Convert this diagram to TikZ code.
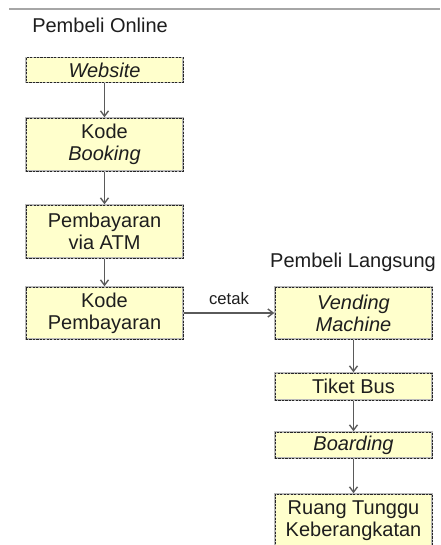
\documentclass[tikz,border=0pt]{standalone}
\usepackage{fontspec}
\setmainfont{Liberation Sans}
\usetikzlibrary{arrows.meta}
\definecolor{boxfill}{RGB}{255,255,204}
\definecolor{linegray}{RGB}{90,90,90}
\definecolor{txt}{RGB}{30,30,30}
\tikzset{
  flowbox/.style={rectangle, fill=boxfill, draw=gray!55, line width=1.1pt,
    postaction={draw=black!85, line width=0.45pt, dash pattern=on 1.6pt off 1pt},
    minimum width=157*0.75pt, inner sep=0pt, align=center, text=txt,
    font=\fontsize{15}{16.5}\selectfont},
  flowarrow/.style={draw=linegray, line width=1pt, -{Straight Barb[length=4pt,width=6pt]}},
  title/.style={font=\fontsize{15}{18}\selectfont, text=txt, inner sep=0pt}
}
\begin{document}
\begin{tikzpicture}[x=0.75pt,y=-0.75pt]
\useasboundingbox (0,0) rectangle (440,545);
\clip (0,0) rectangle (440,545);
\fill[white] (0,0) rectangle (440,545);
\coordinate (tl) at (9,9);
\coordinate (tr) at (440,9);
\draw[gray!70, line width=1pt] (tl) -- (tr);

\node[title, anchor=west] (lonline) at (32,25) {Pembeli Online};
\node[title] (llang) at (353,262) {Pembeli Langsung};

\node[flowbox, minimum height=25*0.75pt] (web) at (104.5,70) {\itshape Website};
\node[flowbox, minimum height=53*0.75pt] (kb) at (104.5,144.5) {Kode\\\itshape Booking};
\node[flowbox, minimum height=53*0.75pt] (atm) at (104.5,231.5) {Pembayaran\\via ATM};
\node[flowbox, minimum height=52*0.75pt] (kp) at (104.5,313) {Kode\\Pembayaran};
\node[flowbox, minimum height=52*0.75pt] (vm) at (353.5,313) {\itshape Vending\\\itshape Machine};
\node[flowbox, minimum height=27*0.75pt] (tb) at (353.5,386.5) {Tiket Bus};
\node[flowbox, minimum height=26*0.75pt] (bd) at (353.5,445) {\itshape Boarding};
\node[flowbox, minimum height=54*0.75pt] (rt) at (353.5,521) {Ruang Tunggu\\Keberangkatan};

\draw[flowarrow] (web) -- (kb);
\draw[flowarrow] (kb) -- (atm);
\draw[flowarrow] (atm) -- (kp);
\draw[flowarrow] (kp.east) -- node[above=6pt, font=\fontsize{12.5}{14}\selectfont, text=txt, inner sep=0pt] (cetak) {cetak} (vm.west);
\draw[flowarrow] (vm) -- (tb);
\draw[flowarrow] (tb) -- (bd);
\draw[flowarrow] (bd) -- (rt);
\end{tikzpicture}
\end{document}
